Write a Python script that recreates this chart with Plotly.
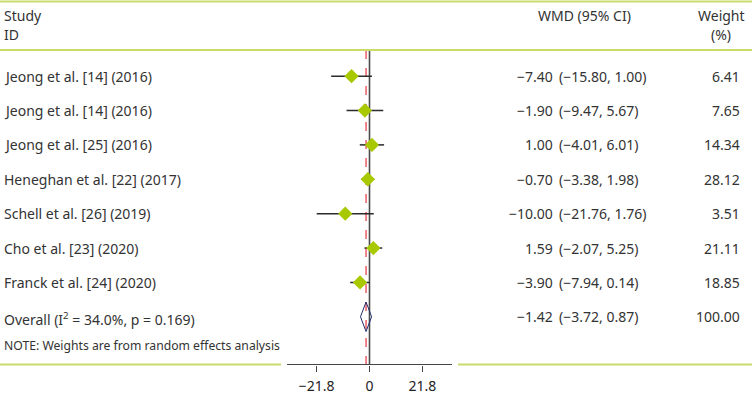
import plotly.graph_objects as go

studies = ["Jeong et al. [14] (2016)", "Jeong et al. [14] (2016)", "Jeong et al. [25] (2016)",
           "Heneghan et al. [22] (2017)", "Schell et al. [26] (2019)", "Cho et al. [23] (2020)",
           "Franck et al. [24] (2020)"]
wmd = [-7.40, -1.90, 1.00, -0.70, -10.00, 1.59, -3.90]
ci_low = [-15.80, -9.47, -4.01, -3.38, -21.76, -2.07, -7.94]
ci_high = [1.00, 5.67, 6.01, 1.98, 1.76, 5.25, 0.14]
weights = [6.41, 7.65, 14.34, 28.12, 3.51, 21.11, 18.85]
overall_label = "Overall (I<sup>2</sup> = 34.0%, p = 0.169)"
overall_wmd = -1.42
overall_low = -3.72
overall_high = 0.87
overall_weight = 100.00
tick_vals = [-21.8, 0, 21.8]
tick_text = ["\u221221.8", "0", "21.8"]

W, H = 752, 395
FONT = "Noto Sans"
TXT = "#333333"
GREEN_LINE = "#c9dc6b"
GREEN_MARK = "#a8c800"

def fmt(v):
    s = f"{abs(v):.2f}"
    return ("\u2212" + s) if v < 0 else s

# pixel geometry helpers
row0_px, row_step = 77.5, 35.0
axis_px = 371.0
def row_of(px):
    return (px - row0_px) / row_step
y_top = row_of(0)
y_bot = row_of(axis_px)

fig = go.Figure()
rows = list(range(len(studies)))
overall_row = len(studies)

# CI lines
for i in rows:
    fig.add_trace(go.Scatter(x=[ci_low[i], ci_high[i]], y=[i, i], mode="lines",
                             line=dict(color="#2b2b2b", width=1.5), hoverinfo="skip", showlegend=False))
# point estimates
fig.add_trace(go.Scatter(x=wmd, y=rows, mode="markers",
                         marker=dict(symbol="diamond", size=11, color=GREEN_MARK),
                         showlegend=False))
# overall diamond
dh = 15 / row_step
fig.add_trace(go.Scatter(x=[overall_low, overall_wmd, overall_high, overall_wmd, overall_low],
                         y=[overall_row, overall_row - dh, overall_row, overall_row + dh, overall_row],
                         mode="lines", line=dict(color="#1f2f6e", width=1), showlegend=False))

shapes = []
# zero line
shapes.append(dict(type="line", xref="x", yref="y", x0=0, x1=0, y0=row_of(51), y1=y_bot,
                   line=dict(color="#4a4a4a", width=1.6), layer="below"))
# overall dashed line
shapes.append(dict(type="line", xref="x", yref="y", x0=overall_wmd, x1=overall_wmd, y0=row_of(51), y1=y_bot,
                   line=dict(color="#e8434f", width=1.3, dash="dash"), layer="below"))
# green rules
def hline(px, x0, x1):
    return dict(type="line", xref="paper", yref="paper", x0=x0 / W, x1=x1 / W,
                y0=1 - px / H, y1=1 - px / H, line=dict(color=GREEN_LINE, width=2))
shapes.append(hline(1.5, 0, W))
shapes.append(hline(51, 0, W))
shapes.append(hline(axis_px, 0, 281))
shapes.append(hline(axis_px, 458, W))

ann = []
def text(x, y, s, anchor="left", size=14, yref="y", color=TXT):
    ann.append(dict(x=x / W, xref="paper", y=y, yref=yref, text=s, showarrow=False,
                    xanchor=anchor, yanchor="middle", font=dict(family=FONT, size=size, color=color)))

# headers
text(2, row_of(16), "Study")
text(2, row_of(35), "ID")
text(584, row_of(16), "WMD (95% CI)", anchor="center")
text(721, row_of(16), "Weight", anchor="center")
text(721, row_of(35), "(%)", anchor="center")

for i in rows:
    text(2, i, studies[i])
    text(555, i, fmt(wmd[i]), anchor="right")
    text(557, i, f"({fmt(ci_low[i])}, {fmt(ci_high[i])})", anchor="left")
    text(742, i, f"{weights[i]:.2f}", anchor="right")

text(2, overall_row + 0.05, overall_label)
text(555, overall_row, fmt(overall_wmd), anchor="right")
text(557, overall_row, f"({fmt(overall_low)}, {fmt(overall_high)})", anchor="left")
text(742, overall_row, f"{overall_weight:.2f}", anchor="right")
text(2, row_of(352), "NOTE: Weights are from random effects analysis", size=12.2)

fig.update_layout(
    width=W, height=H, margin=dict(l=0, r=0, t=0, b=0),
    paper_bgcolor="white", plot_bgcolor="white",
    shapes=shapes, annotations=ann,
    xaxis=dict(domain=[287 / W, 452 / W], range=[-34, 34], tickvals=tick_vals, ticktext=tick_text,
               showgrid=False, zeroline=False, showline=True, linecolor="#444444", linewidth=1.3,
               ticks="outside", ticklen=6, tickcolor="#444444", tickwidth=1.3,
               ticklabelstandoff=3,
               tickfont=dict(family=FONT, size=14, color="#222222"), fixedrange=True),
    yaxis=dict(domain=[(H - axis_px) / H, 1], range=[y_bot, y_top], visible=False,
               showgrid=False, zeroline=False, fixedrange=True),
    hovermode=False,
)

fig.write_html("out.html", config={"displayModeBar": False},
               post_script="document.body.style.margin='0';document.body.style.overflow='hidden';")
